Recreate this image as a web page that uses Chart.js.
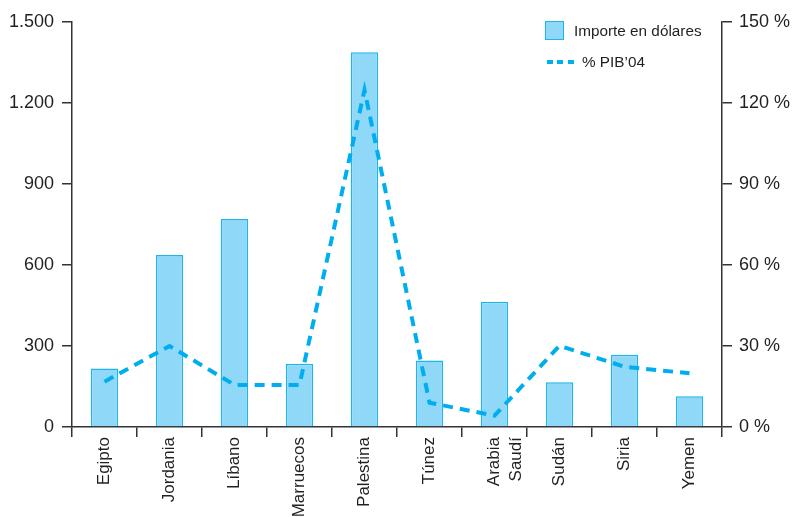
<!DOCTYPE html>
<html>
<head>
<meta charset="utf-8">
<script src="https://cdn.jsdelivr.net/npm/chart.js@4/dist/chart.umd.min.js"></script>
<style>
  html, body { margin: 0; padding: 0; background: #fff; }
  #wrap { position: relative; width: 794px; height: 517px; overflow: hidden; }
  #c { position: absolute; left: 0; top: 0; }
  .lg { position: absolute; font-family: "Liberation Sans", Arial, sans-serif; font-size: 15.3px; color: #231f20; white-space: nowrap; line-height: 18px; }
  #lgBox { position: absolute; left: 545px; top: 21px; width: 17px; height: 17px; background: #8fd8f7; border: 1.5px solid #1cb5ec; }
  #lgDash { position: absolute; left: 547px; top: 60px; width: 27px; height: 4px;
    background: repeating-linear-gradient(to right, #00aeef 0 6px, transparent 6px 10.5px); }
</style>
</head>
<body>
<div id="wrap">
  <canvas id="c" width="794" height="517"></canvas>
  <div id="lgBox"></div>
  <div class="lg" style="left:574px; top:22px;">Importe en dólares</div>
  <div id="lgDash"></div>
  <div class="lg" style="left:582px; top:53px;">% PIB’04</div>
</div>
<script>
const categories = ['Egipto', 'Jordania', 'Líbano', 'Marruecos', 'Palestina', 'Túnez', ['Arabia', 'Saudí'], 'Sudán', 'Siria', 'Yemen'];
const importeDolares = [217, 637, 770, 234, 1388, 246, 464, 166, 268, 114];
const pibPct = [16.8, 30, 15.6, 15.6, 124.8, 9, 4.2, 30.1, 22.3, 19.9];
const leftTicks = [0, 300, 600, 900, 1200, 1500];
const rightTicks = [0, 30, 60, 90, 120, 150];

const textColor = '#231f20';
const axisColor = '#333333';
const fontFam = '"Liberation Sans", Arial, sans-serif';

function fmtThousands(v) {
  return String(v).replace(/\B(?=(\d{3})+(?!\d))/g, '.');
}

new Chart(document.getElementById('c'), {
  type: 'bar',
  data: {
    labels: categories,
    datasets: [
      {
        type: 'line',
        label: '% PIB’04',
        data: pibPct,
        yAxisID: 'y1',
        borderColor: '#00aeef',
        borderWidth: 4,
        borderDash: [10, 7],
        borderCapStyle: 'butt',
        pointRadius: 0,
        tension: 0,
        fill: false,
        order: 0
      },
      {
        type: 'bar',
        label: 'Importe en dólares',
        data: importeDolares,
        yAxisID: 'y',
        backgroundColor: '#8fd8f7',
        borderColor: '#1cb5ec',
        borderWidth: 1.5,
        categoryPercentage: 1,
        barPercentage: 0.42,
        order: 1
      }
    ]
  },
  options: {
    responsive: false,
    animation: false,
    devicePixelRatio: 1,
    layout: { padding: { top: 22, left: 0, right: 0, bottom: 0 } },
    plugins: {
      legend: { display: false },
      tooltip: { enabled: false }
    },
    scales: {
      x: {
        offset: true,
        grid: { display: true, drawOnChartArea: false, drawTicks: true, tickLength: 10, offset: true, color: axisColor, lineWidth: 1.5 },
        border: { display: true, color: axisColor, width: 1.5 },
        ticks: {
          autoSkip: false, minRotation: 90, maxRotation: 90, padding: 0,
          color: textColor, font: { family: fontFam, size: 17, lineHeight: 1.3 }
        },
        afterFit: (s) => { s.height = 90; }
      },
      y: {
        position: 'left',
        min: 0, max: 1500,
        afterBuildTicks: (s) => { s.ticks = leftTicks.map(v => ({ value: v })); },
        grid: { display: true, drawOnChartArea: false, drawTicks: true, tickLength: 10, color: axisColor, lineWidth: 1.5 },
        border: { display: true, color: axisColor, width: 1.5 },
        ticks: {
          padding: 8, color: textColor, font: { family: fontFam, size: 18 },
          callback: (v) => fmtThousands(v)
        },
        afterFit: (s) => { s.width = 72; }
      },
      y1: {
        position: 'right',
        min: 0, max: 150,
        afterBuildTicks: (s) => { s.ticks = rightTicks.map(v => ({ value: v })); },
        grid: { display: true, drawOnChartArea: false, drawTicks: true, tickLength: 10, color: axisColor, lineWidth: 1.5 },
        border: { display: true, color: axisColor, width: 1.5 },
        ticks: {
          padding: 7, color: textColor, font: { family: fontFam, size: 18 },
          callback: (v) => v + ' %'
        },
        afterFit: (s) => { s.width = 72; }
      }
    }
  }
});
</script>
</body>
</html>
